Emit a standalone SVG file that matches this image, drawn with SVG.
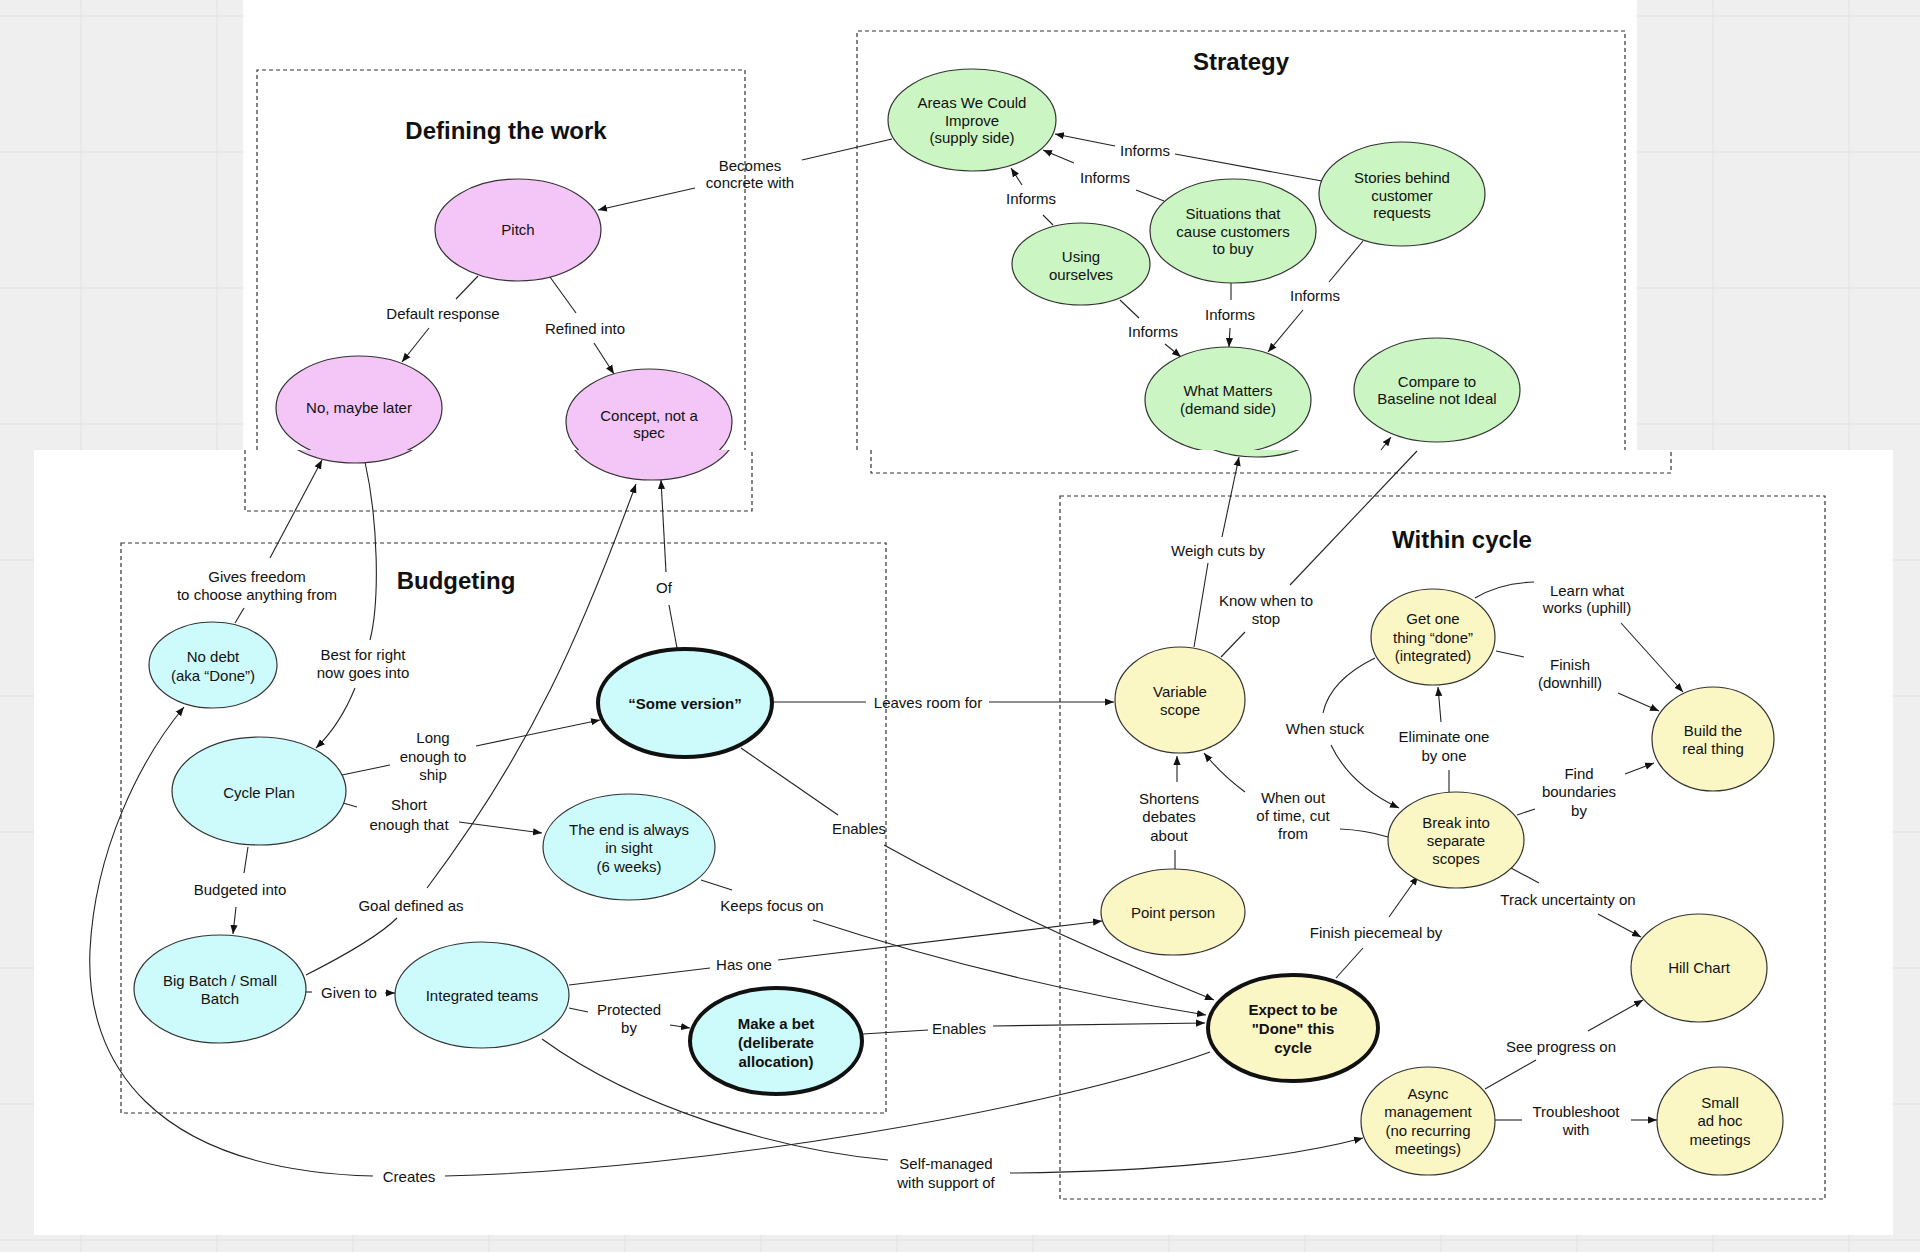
<svg xmlns="http://www.w3.org/2000/svg" width="1920" height="1252" viewBox="0 0 1920 1252">
<style>
.grid{stroke:#e1e1e1;stroke-width:1}
.panel{fill:#fff}
.box{fill:none;stroke:#333;stroke-width:1.2;stroke-dasharray:4 3}
.title{font-family:"Liberation Sans",Arial,sans-serif;font-size:24px;font-weight:bold;fill:#111;text-anchor:middle}
.n{stroke:#333;stroke-width:1.2}
.pink{fill:#f4c6f7}
.green{fill:#cbf6c3}
.cyan{fill:#cdfbfb}
.yellow{fill:#fbf7c5}
.thick{stroke:#111;stroke-width:4}
.t{font-family:"Liberation Sans",Arial,sans-serif;font-size:15px;fill:#111;text-anchor:middle}
.b{font-weight:bold}
.e{fill:none;stroke:#222;stroke-width:1.1}
.a{marker-end:url(#ah)}
</style>
<defs>
<marker id="ah" viewBox="0 0 10 10" refX="10" refY="5" markerWidth="9" markerHeight="9" markerUnits="userSpaceOnUse" orient="auto"><path d="M0,1 L10,5 L0,9 z" fill="#111"/></marker>
<clipPath id="topclip"><rect x="243" y="0" width="1394" height="450"/></clipPath>
<clipPath id="botclip"><rect x="34" y="450" width="1859" height="785"/></clipPath>
</defs>

<g id="background">
<rect width="1920" height="1252" fill="#efefef"/>
<path class="grid" d="M81,0V1252M217,0V1252M353,0V1252M489,0V1252M625,0V1252M761,0V1252M897,0V1252M1033,0V1252M1169,0V1252M1305,0V1252M1441,0V1252M1577,0V1252M1713,0V1252M1849,0V1252M0,16H1920M0,152H1920M0,288H1920M0,424H1920M0,560H1920M0,696H1920M0,832H1920M0,968H1920M0,1104H1920M0,1240H1920"/>
<rect class="panel" x="243" y="0" width="1394" height="450"/>
<rect class="panel" x="34" y="450" width="1859" height="785"/>
</g>

<g id="group-defining">
<path class="box" d="M257,450V70H745V450"/>
<path class="box" d="M245,450V511H752V450"/>
<text class="title" x="506" y="139">Defining the work</text>
</g>
<g id="group-strategy">
<path class="box" d="M857,450V31H1625V450"/>
<path class="box" d="M871,450V473H1671V450"/>
<text class="title" x="1241" y="70">Strategy</text>
</g>
<g id="group-budgeting">
<rect class="box" x="121" y="543" width="765" height="570"/>
<text class="title" x="456" y="589">Budgeting</text>
</g>
<g id="group-within">
<rect class="box" x="1060" y="496" width="765" height="703"/>
<text class="title" x="1462" y="548">Within cycle</text>
</g>

<g id="connectors">
<path class="e" d="M892,139 L802,160"/><path class="e a" d="M695,188 L598,210"/>
<text class="t" x="750" y="171">Becomes</text><text class="t" x="750" y="188">concrete with</text>
<path class="e" d="M478,276 L456,299"/><path class="e a" d="M429,328 L402,362"/>
<text class="t" x="443" y="319">Default response</text>
<path class="e" d="M550,277 L576,313"/><path class="e a" d="M594,343 L614,374"/>
<text class="t" x="585" y="334">Refined into</text>
<path class="e" d="M1322,181 L1175,154"/><path class="e a" d="M1115,146 L1055,134"/>
<text class="t" x="1145" y="156">Informs</text>
<path class="e" d="M1164,201 L1136,190"/><path class="e a" d="M1074,163 L1043,150"/>
<text class="t" x="1105" y="183">Informs</text>
<path class="e" d="M1053,225 L1043,215"/><path class="e a" d="M1022,185 L1011,168"/>
<text class="t" x="1031" y="204">Informs</text>
<path class="e" d="M1120,300 L1139,318"/><path class="e a" d="M1165,344 L1181,357"/>
<text class="t" x="1153" y="337">Informs</text>
<path class="e" d="M1231,283 L1231,300"/><path class="e a" d="M1230,328 L1229,347"/>
<text class="t" x="1230" y="320">Informs</text>
<path class="e" d="M1363,241 L1329,282"/><path class="e a" d="M1303,310 L1268,352"/>
<text class="t" x="1315" y="301">Informs</text>

<path class="e" d="M1194,647 L1208,563"/><path class="e a" d="M1222,537 L1239,457"/>
<text class="t" x="1218" y="556">Weigh cuts by</text>
<path class="e" d="M1221,657 L1245,632"/><path class="e" d="M1290,585 L1417,451"/><path class="e a" d="M1381,450 L1391,437"/>
<text class="t" x="1266" y="606">Know when to</text><text class="t" x="1266" y="624">stop</text>
<path class="e" d="M235,623 L244,608"/><path class="e a" d="M270,558 L322,460"/>
<text class="t" x="257" y="582">Gives freedom</text><text class="t" x="257" y="600">to choose anything from</text>
<path class="e" d="M365,462 C378,520 380,600 370,640"/><path class="e a" d="M355,688 Q340,725 316,748"/>
<text class="t" x="363" y="660">Best for right</text><text class="t" x="363" y="678">now goes into</text>
<path class="e" d="M306,975 Q375,940 397,918"/><path class="e a" d="M427,888 C532,748 581,634 636,484"/>
<text class="t" x="411" y="911">Goal defined as</text>
<path class="e" d="M677,648 L669,605"/><path class="e a" d="M666,572 L661,480"/>
<text class="t" x="664" y="593">Of</text>
<path class="e" d="M342,775 L390,765"/><path class="e a" d="M476,746 L600,720"/>
<text class="t" x="433" y="743">Long</text><text class="t" x="433" y="762">enough to</text><text class="t" x="433" y="780">ship</text>
<path class="e" d="M343,803 L357,807"/><path class="e a" d="M459,822 L542,833"/>
<text class="t" x="409" y="810">Short</text><text class="t" x="409" y="830">enough that</text>
<path class="e" d="M248,847 L244,873"/><path class="e a" d="M236,907 L233,934"/>
<text class="t" x="240" y="895">Budgeted into</text>
<path class="e" d="M306,992 L312,992"/><path class="e a" d="M385,993 L395,993"/>
<text class="t" x="349" y="998">Given to</text>
<path class="e" d="M569,1008 L588,1012"/><path class="e a" d="M670,1025 L690,1028"/>
<text class="t" x="629" y="1015">Protected</text><text class="t" x="629" y="1033">by</text>
<path class="e" d="M569,985 L710,968"/><path class="e a" d="M778,960 L1102,921"/>
<text class="t" x="744" y="970">Has one</text>
<path class="e" d="M701,880 L732,890"/><path class="e a" d="M813,920 Q1002,982 1206,1015"/>
<text class="t" x="772" y="911">Keeps focus on</text>
<path class="e" d="M772,702 L866,702"/><path class="e a" d="M989,702 L1114,702"/>
<text class="t" x="928" y="708">Leaves room for</text>
<path class="e" d="M741,748 L838,815"/><path class="e a" d="M884,845 Q1028,925 1214,1000"/>
<text class="t" x="859" y="834">Enables</text>
<path class="e" d="M863,1034 L928,1030"/><path class="e a" d="M993,1026 L1205,1023"/>
<text class="t" x="959" y="1034">Enables</text>
<path class="e" d="M1210,1052 C1050,1110 700,1170 445,1176"/><path class="e a" d="M373,1176 C150,1170 85,1060 90,950 C95,850 140,760 184,707"/>
<text class="t" x="409" y="1182">Creates</text>
<path class="e" d="M542,1039 C640,1110 780,1150 888,1160"/><path class="e a" d="M1010,1173 C1150,1172 1280,1160 1363,1138"/>
<text class="t" x="946" y="1169">Self-managed</text><text class="t" x="946" y="1188">with support of</text>
<path class="e" d="M1336,978 L1363,948"/><path class="e a" d="M1389,917 L1418,876"/>
<text class="t" x="1376" y="938">Finish piecemeal by</text>
<path class="e" d="M1511,868 L1539,883"/><path class="e a" d="M1598,914 L1641,937"/>
<text class="t" x="1568" y="905">Track uncertainty on</text>
<path class="e" d="M1485,1089 L1536,1060"/><path class="e a" d="M1588,1031 L1643,1000"/>
<text class="t" x="1561" y="1052">See progress on</text>
<path class="e" d="M1495,1120 L1522,1120"/><path class="e a" d="M1631,1120 L1657,1120"/>
<text class="t" x="1576" y="1117">Troubleshoot</text><text class="t" x="1576" y="1135">with</text>
<path class="e" d="M1175,869 L1175,850"/><path class="e a" d="M1177,782 L1177,756"/>
<text class="t" x="1169" y="804">Shortens</text><text class="t" x="1169" y="822">debates</text><text class="t" x="1169" y="841">about</text>
<path class="e" d="M1388,837 Q1365,830 1340,829"/><path class="e a" d="M1245,792 Q1222,775 1204,753"/>
<text class="t" x="1293" y="803">When out</text><text class="t" x="1293" y="821">of time, cut</text><text class="t" x="1293" y="839">from</text>
<path class="e" d="M1375,658 Q1330,680 1323,713"/><path class="e a" d="M1331,745 Q1350,785 1399,808"/>
<text class="t" x="1325" y="734">When stuck</text>
<path class="e" d="M1449,792 L1449,770"/><path class="e a" d="M1441,722 L1438,687"/>
<text class="t" x="1444" y="742">Eliminate one</text><text class="t" x="1444" y="761">by one</text>
<path class="e" d="M1475,598 Q1500,583 1534,582"/><path class="e a" d="M1621,623 L1683,692"/>
<text class="t" x="1587" y="596">Learn what</text><text class="t" x="1587" y="613">works (uphill)</text>
<path class="e" d="M1496,651 L1524,657"/><path class="e a" d="M1618,693 L1659,711"/>
<text class="t" x="1570" y="670">Finish</text><text class="t" x="1570" y="688">(downhill)</text>
<path class="e" d="M1517,815 L1535,809"/><path class="e a" d="M1625,774 L1654,763"/>
<text class="t" x="1579" y="779">Find</text><text class="t" x="1579" y="797">boundaries</text><text class="t" x="1579" y="816">by</text>
</g>

<g id="node-pitch"><ellipse class="n pink" cx="518" cy="230" rx="83" ry="51"/><text class="t" x="518" y="235">Pitch</text></g>
<g id="node-no-maybe-later">
<ellipse class="n pink" cx="359" cy="408" rx="83" ry="52" clip-path="url(#topclip)"/>
<ellipse class="n pink" cx="355" cy="411" rx="86" ry="52" clip-path="url(#botclip)"/>
<text class="t" x="359" y="413">No, maybe later</text></g>
<g id="node-concept">
<ellipse class="n pink" cx="649" cy="422" rx="83" ry="53" clip-path="url(#topclip)"/>
<ellipse class="n pink" cx="652" cy="426" rx="86" ry="54" clip-path="url(#botclip)"/>
<text class="t" x="649" y="421">Concept, not a</text><text class="t" x="649" y="438">spec</text></g>

<g id="node-areas"><ellipse class="n green" cx="972" cy="120" rx="84" ry="51"/><text class="t" x="972" y="108">Areas We Could</text><text class="t" x="972" y="126">Improve</text><text class="t" x="972" y="143">(supply side)</text></g>
<g id="node-stories"><ellipse class="n green" cx="1402" cy="194" rx="83" ry="52"/><text class="t" x="1402" y="183">Stories behind</text><text class="t" x="1402" y="201">customer</text><text class="t" x="1402" y="218">requests</text></g>
<g id="node-situations"><ellipse class="n green" cx="1233" cy="231" rx="83" ry="52"/><text class="t" x="1233" y="219">Situations that</text><text class="t" x="1233" y="237">cause customers</text><text class="t" x="1233" y="254">to buy</text></g>
<g id="node-using"><ellipse class="n green" cx="1081" cy="264" rx="69" ry="41"/><text class="t" x="1081" y="262">Using</text><text class="t" x="1081" y="280">ourselves</text></g>
<g id="node-what-matters">
<ellipse class="n green" cx="1228" cy="400" rx="83" ry="53" clip-path="url(#topclip)"/>
<ellipse class="n green" cx="1256" cy="404" rx="83" ry="53" clip-path="url(#botclip)"/>
<text class="t" x="1228" y="396">What Matters</text><text class="t" x="1228" y="414">(demand side)</text></g>
<g id="node-compare"><ellipse class="n green" cx="1437" cy="390" rx="83" ry="52"/><text class="t" x="1437" y="387">Compare to</text><text class="t" x="1437" y="404">Baseline not Ideal</text></g>

<g id="node-no-debt"><ellipse class="n cyan" cx="213" cy="665" rx="64" ry="43"/><text class="t" x="213" y="662">No debt</text><text class="t" x="213" y="681">(aka “Done”)</text></g>
<g id="node-cycle-plan"><ellipse class="n cyan" cx="259" cy="791" rx="87" ry="54"/><text class="t" x="259" y="798">Cycle Plan</text></g>
<g id="node-some-version"><ellipse class="cyan thick" cx="685" cy="703" rx="87" ry="54"/><text class="t b" x="685" y="709">“Some version”</text></g>
<g id="node-end-in-sight"><ellipse class="n cyan" cx="629" cy="847" rx="86" ry="53"/><text class="t" x="629" y="835">The end is always</text><text class="t" x="629" y="853">in sight</text><text class="t" x="629" y="872">(6 weeks)</text></g>
<g id="node-big-batch"><ellipse class="n cyan" cx="220" cy="989" rx="86" ry="54"/><text class="t" x="220" y="986">Big Batch / Small</text><text class="t" x="220" y="1004">Batch</text></g>
<g id="node-integrated-teams"><ellipse class="n cyan" cx="482" cy="995" rx="87" ry="53"/><text class="t" x="482" y="1001">Integrated teams</text></g>
<g id="node-make-a-bet"><ellipse class="cyan thick" cx="776" cy="1041" rx="86" ry="53"/><text class="t b" x="776" y="1029">Make a bet</text><text class="t b" x="776" y="1048">(deliberate</text><text class="t b" x="776" y="1067">allocation)</text></g>

<g id="node-variable-scope"><ellipse class="n yellow" cx="1180" cy="700" rx="65" ry="53"/><text class="t" x="1180" y="697">Variable</text><text class="t" x="1180" y="715">scope</text></g>
<g id="node-get-one-thing"><ellipse class="n yellow" cx="1433" cy="637" rx="62" ry="48"/><text class="t" x="1433" y="624">Get one</text><text class="t" x="1433" y="643">thing “done”</text><text class="t" x="1433" y="661">(integrated)</text></g>
<g id="node-build"><ellipse class="n yellow" cx="1713" cy="739" rx="61" ry="52"/><text class="t" x="1713" y="736">Build the</text><text class="t" x="1713" y="754">real thing</text></g>
<g id="node-break-into"><ellipse class="n yellow" cx="1456" cy="840" rx="68" ry="48"/><text class="t" x="1456" y="828">Break into</text><text class="t" x="1456" y="846">separate</text><text class="t" x="1456" y="864">scopes</text></g>
<g id="node-point-person"><ellipse class="n yellow" cx="1173" cy="912" rx="72" ry="43"/><text class="t" x="1173" y="918">Point person</text></g>
<g id="node-expect-done"><ellipse class="yellow thick" cx="1293" cy="1028" rx="85" ry="53"/><text class="t b" x="1293" y="1015">Expect to be</text><text class="t b" x="1293" y="1034">"Done" this</text><text class="t b" x="1293" y="1053">cycle</text></g>
<g id="node-hill-chart"><ellipse class="n yellow" cx="1699" cy="968" rx="68" ry="54"/><text class="t" x="1699" y="973">Hill Chart</text></g>
<g id="node-async"><ellipse class="n yellow" cx="1428" cy="1121" rx="67" ry="54"/><text class="t" x="1428" y="1099">Async</text><text class="t" x="1428" y="1117">management</text><text class="t" x="1428" y="1136">(no recurring</text><text class="t" x="1428" y="1154">meetings)</text></g>
<g id="node-small-ad-hoc"><ellipse class="n yellow" cx="1720" cy="1121" rx="63" ry="54"/><text class="t" x="1720" y="1108">Small</text><text class="t" x="1720" y="1126">ad hoc</text><text class="t" x="1720" y="1145">meetings</text></g>
</svg>
